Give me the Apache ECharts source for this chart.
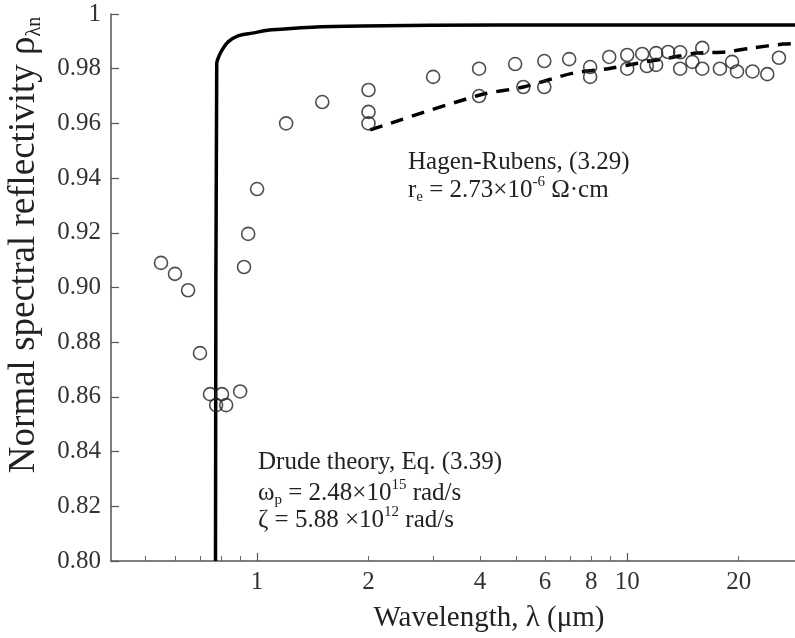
<!DOCTYPE html>
<html>
<head>
<meta charset="utf-8">
<script src="https://cdn.jsdelivr.net/npm/echarts@6/dist/echarts.min.js"></script>
<style>
  html, body { margin: 0; padding: 0; background: #fff; }
  #chart { width: 795px; height: 638px; }
</style>
</head>
<body>
<div id="chart"></div>
<script>
// measured reflectivity (wavelength in um)
const measuredLambda = [0.55, 0.60, 0.651, 0.701, 0.746, 0.804, 0.775, 0.825, 0.90, 0.922, 0.946, 1.0,
  1.198, 1.50, 2.0, 2.0, 2.0, 2.99, 3.98, 3.98, 4.98, 5.24, 5.97, 5.97, 6.97, 7.94, 7.94, 8.94,
  10.0, 10.0, 10.98, 11.3, 11.97, 11.97, 12.9, 13.9, 13.9, 15.0, 15.95, 15.95, 17.8, 19.2, 19.8,
  21.8, 23.9, 25.7];
const measuredRho = [0.909, 0.905, 0.899, 0.876, 0.861, 0.861, 0.857, 0.857, 0.862, 0.9075, 0.9196, 0.936,
  0.960, 0.9678, 0.9722, 0.9642, 0.960, 0.977, 0.980, 0.970, 0.9817, 0.9733, 0.9828, 0.9733, 0.9835, 0.9806, 0.977, 0.9843,
  0.985, 0.980, 0.9854, 0.981, 0.9857, 0.9814, 0.9861, 0.986, 0.980, 0.9825, 0.9876, 0.980, 0.980, 0.9825, 0.979,
  0.979, 0.978, 0.984];

// Drude theory curve
const drudeLambda = [0.772, 0.778, 0.790, 0.804, 0.835, 0.888, 0.969, 1.098, 1.408, 1.92, 4.54, 28.4];
const drudeRho = [0.80, 0.982, 0.9848, 0.9868, 0.9898, 0.992, 0.993, 0.9942, 0.9952, 0.9956, 0.996, 0.996];

// Hagen-Rubens curve
const hagenLambda = [2.02, 4.0, 5.24, 7.15, 8.89, 10.66, 13.07, 15.4, 18.4, 21.8, 26.36, 28.4];
const hagenRho = [0.9576, 0.9704, 0.9733, 0.9784, 0.980, 0.982, 0.984, 0.9857, 0.9861, 0.9876, 0.989, 0.9892];

const xLabelValues = [1, 2, 4, 6, 8, 10, 20];
const xMajorTicks = [1, 10];
const xMinorTicks = [0.5, 0.6, 0.7, 0.8, 0.9, 2, 3, 4, 5, 6, 7, 8, 9, 20];

const FONT = 'Liberation Serif';
const lg = v => Math.log10(v);
const pairs = (xs, ys) => xs.map((x, i) => [lg(x), ys[i]]);

const chart = echarts.init(document.getElementById('chart'));
const xMin = lg(0.403), xMax = lg(28.4);

chart.setOption({
  animation: false,
  grid: { left: 111, right: 0, top: 14, bottom: 77 },
  xAxis: [{
    type: 'value',
    min: xMin,
    max: xMax,
    axisLine: { show: true, onZero: false, lineStyle: { color: '#555', width: 1.5 } },
    axisTick: { show: true, inside: true, length: 8, customValues: xMajorTicks.map(lg), lineStyle: { color: '#555', width: 1.2 } },
    axisLabel: {
      customValues: xLabelValues.map(lg),
      formatter: v => String(Math.round(Math.pow(10, v))),
      fontFamily: FONT, fontSize: 25, color: '#333', margin: 9
    },
    splitLine: { show: false }
  }, {
    type: 'value',
    min: xMin,
    max: xMax,
    position: 'bottom',
    axisLine: { show: false, onZero: false },
    axisTick: { show: true, inside: true, length: 5, customValues: xMinorTicks.map(lg), lineStyle: { color: '#666', width: 1 } },
    axisLabel: { show: false },
    splitLine: { show: false }
  }],
  yAxis: {
    type: 'value',
    min: 0.8,
    max: 1,
    interval: 0.02,
    axisLine: { show: true, onZero: false, lineStyle: { color: '#555', width: 1.5 } },
    axisTick: { show: true, inside: true, length: 8, lineStyle: { color: '#555', width: 1.2 } },
    axisLabel: {
      formatter: v => Math.abs(v - 1) < 1e-9 ? '1' : v.toFixed(2),
      fontFamily: FONT, fontSize: 25, color: '#333', margin: 10
    },
    splitLine: { show: false }
  },
  series: [{
    name: 'Drude',
    type: 'line',
    data: pairs(drudeLambda, drudeRho),
    showSymbol: false,
    smooth: 0.3,
    lineStyle: { color: '#000', width: 3.5 },
    z: 2
  }, {
    name: 'Hagen-Rubens',
    type: 'line',
    data: pairs(hagenLambda, hagenRho),
    showSymbol: false,
    smooth: 0.3,
    lineStyle: { color: '#000', width: 3.5, type: [13, 9] },
    z: 2
  }, {
    name: 'Measured',
    type: 'scatter',
    data: pairs(measuredLambda, measuredRho),
    symbol: 'circle',
    symbolSize: 13,
    itemStyle: { color: 'rgba(0,0,0,0)', borderColor: '#222', borderWidth: 1.6 },
    z: 3
  }],
  graphic: [{
    type: 'text',
    x: 24, y: 245,
    rotation: Math.PI / 2,
    style: {
      text: 'Normal spectral reflectivity ρ{sub|λn}',
      fontFamily: FONT, fontSize: 37, fill: '#222',
      align: 'center', verticalAlign: 'middle', lineHeight: 42,
      rich: { sub: { fontFamily: FONT, fontSize: 20, lineHeight: 20, verticalAlign: 'bottom', fill: '#222' } }
    }
  }, {
    type: 'text',
    x: 489, y: 618,
    style: {
      text: 'Wavelength, λ (μm)',
      fontFamily: FONT, fontSize: 29, fill: '#222',
      align: 'center', verticalAlign: 'middle'
    }
  }, {
    type: 'text',
    x: 408, y: 162,
    style: {
      text: 'Hagen-Rubens, (3.29)',
      fontFamily: FONT, fontSize: 25, fill: '#222', verticalAlign: 'middle'
    }
  }, {
    type: 'text',
    x: 408, y: 190,
    style: {
      text: 'r{sub|e} = 2.73×10{sup|-6} Ω·cm',
      fontFamily: FONT, fontSize: 25, fill: '#222', verticalAlign: 'middle', lineHeight: 30,
      rich: {
        sub: { fontFamily: FONT, fontSize: 15, lineHeight: 15, verticalAlign: 'bottom', fill: '#222' },
        sup: { fontFamily: FONT, fontSize: 15, lineHeight: 15, verticalAlign: 'top', fill: '#222' }
      }
    }
  }, {
    type: 'text',
    x: 258, y: 462,
    style: {
      text: 'Drude theory, Eq. (3.39)',
      fontFamily: FONT, fontSize: 25, fill: '#222', verticalAlign: 'middle'
    }
  }, {
    type: 'text',
    x: 258, y: 493,
    style: {
      text: 'ω{sub|p} = 2.48×10{sup|15} rad/s',
      fontFamily: FONT, fontSize: 25, fill: '#222', verticalAlign: 'middle', lineHeight: 30,
      rich: {
        sub: { fontFamily: FONT, fontSize: 15, lineHeight: 15, verticalAlign: 'bottom', fill: '#222' },
        sup: { fontFamily: FONT, fontSize: 15, lineHeight: 15, verticalAlign: 'top', fill: '#222' }
      }
    }
  }, {
    type: 'text',
    x: 258, y: 520,
    style: {
      text: 'ζ = 5.88 ×10{sup|12} rad/s',
      fontFamily: FONT, fontSize: 25, fill: '#222', verticalAlign: 'middle', lineHeight: 30,
      rich: {
        sup: { fontFamily: FONT, fontSize: 15, lineHeight: 15, verticalAlign: 'top', fill: '#222' }
      }
    }
  }]
});
</script>
</body>
</html>
